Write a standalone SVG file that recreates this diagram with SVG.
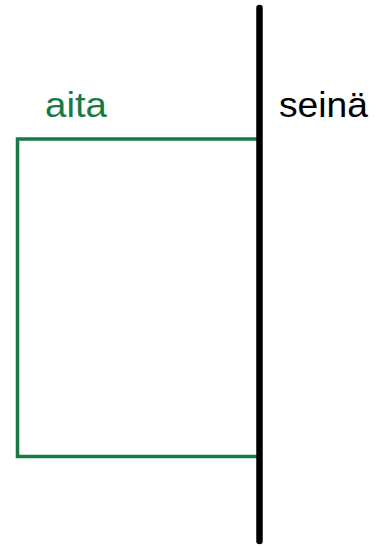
<svg xmlns="http://www.w3.org/2000/svg" width="380" height="546" viewBox="0 0 380 546">
  <style>
    .label { font-family: "Liberation Sans", Arial, sans-serif; font-size: 35px; }
    .fence { fill: none; stroke: #167a45; stroke-width: 3.5; stroke-linejoin: miter; }
    .wall { stroke: #000; stroke-width: 6.5; stroke-linecap: round; }
  </style>
  <rect width="380" height="546" fill="#fff"/>
  <g id="connectors">
    <!-- fence: three sides of a rectangle closed by the wall -->
    <path id="aita-line" class="fence" d="M260 139 H17.5 V456.5 H260"/>
  </g>
  <g id="seina">
    <line class="wall" x1="259.5" y1="8" x2="259.5" y2="541"/>
    <text class="label" x="279" y="117" fill="#000" textLength="89" lengthAdjust="spacingAndGlyphs">seinä</text>
  </g>
  <g id="aita">
    <text class="label" x="45" y="117" fill="#167a45" textLength="62" lengthAdjust="spacingAndGlyphs">aita</text>
  </g>
</svg>
